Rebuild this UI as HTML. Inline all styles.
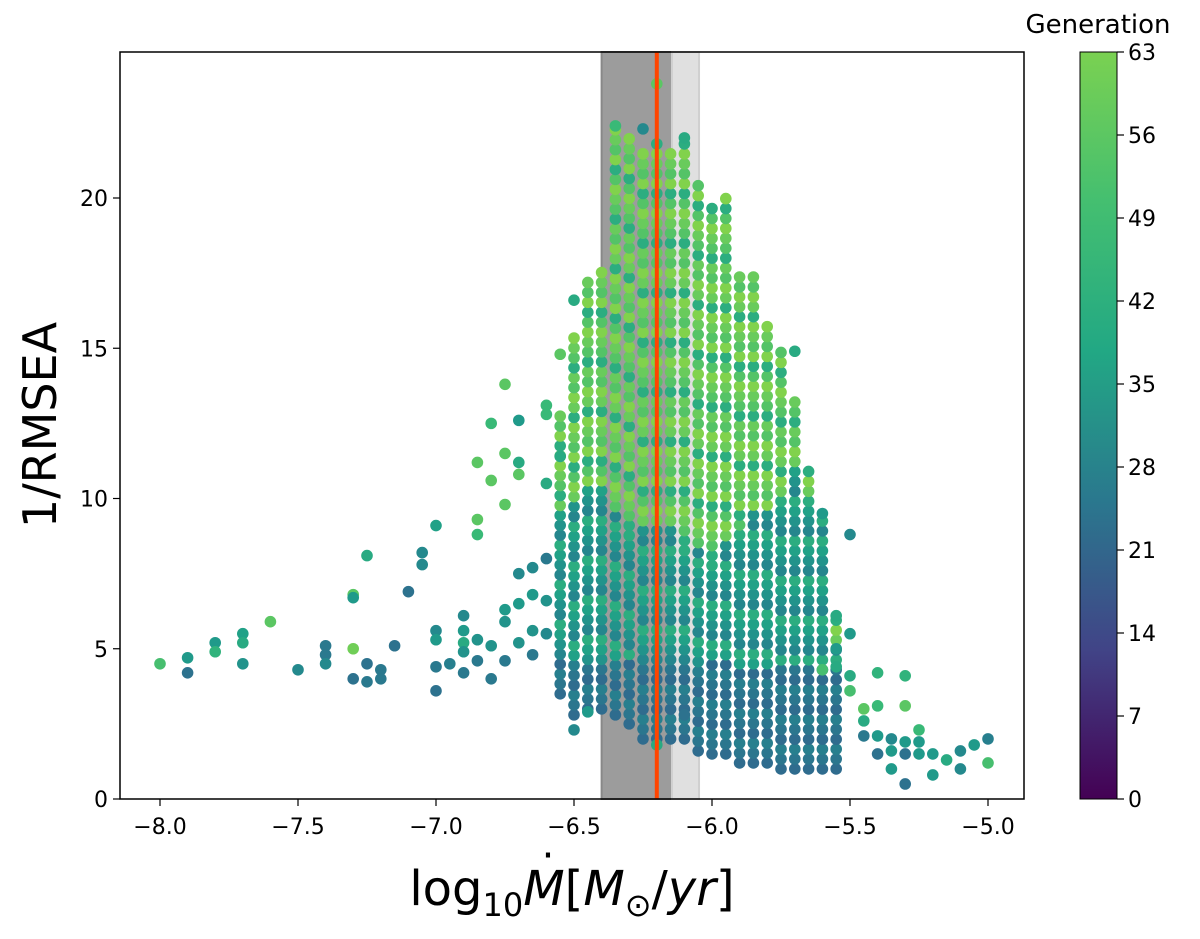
<!DOCTYPE html>
<html><head><meta charset="utf-8"><style>
body{margin:0;background:#fff;}
svg text{font-family:"DejaVu Sans","Liberation Sans",sans-serif;fill:#000;}
</style></head><body>
<svg id="chart" width="1200" height="934" xmlns="http://www.w3.org/2000/svg">
<defs>
<linearGradient id="vircb" x1="0" y1="1" x2="0" y2="0">
<stop offset="0" stop-color="#440154"/><stop offset="0.2" stop-color="#414487"/><stop offset="0.4" stop-color="#2a788e"/><stop offset="0.6" stop-color="#22a884"/><stop offset="0.8" stop-color="#44bf70"/><stop offset="1" stop-color="#7ad151"/></linearGradient>
<clipPath id="pc"><rect x="120" y="52" width="904" height="747"/></clipPath></defs>
<g id="bands"></g>
<g id="pts" clip-path="url(#pc)"></g>
<g id="over"></g>
<rect x="120" y="52" width="904" height="747" fill="none" stroke="#000" stroke-width="1.5"/>
<g id="xt"></g>
<g id="yt"></g>
<text id="xlab" x="572" y="905" font-size="48" text-anchor="middle">log<tspan font-size="32" dy="11">10</tspan><tspan dy="-11" font-style="italic">M</tspan>[<tspan font-style="italic">M</tspan><tspan font-size="32" dy="11">⊙</tspan><tspan dy="-11">/</tspan><tspan font-style="italic">yr</tspan>]</text>
<text id="mdot" x="515" y="855" font-size="40" text-anchor="middle">·</text>
<text transform="translate(56,425) rotate(-90)" font-size="46" text-anchor="middle">1/RMSEA</text>
<rect x="1080" y="52" width="37" height="747" fill="url(#vircb)" stroke="#000" stroke-width="1"/>
<g id="ct"></g>
<text x="1098" y="33" font-size="26" text-anchor="middle">Generation</text>
</svg>
<script>
const columnX=[-6.55,-6.5,-6.45,-6.4,-6.35,-6.3,-6.25,-6.2,-6.15,-6.1,-6.05,-6.0,-5.95,-5.9,-5.85,-5.8,-5.75,-5.7,-5.65,-5.6,-5.55];
const columnMin=[3.5,2.8,3.0,3.0,2.8,2.5,2.0,2.0,2.0,2.0,1.6,1.5,1.5,1.2,1.2,1.2,1.0,1.0,1.0,1.0,1.0];
const columnMax=[13.0,15.5,17.5,17.7,22.4,22.0,21.5,21.8,21.5,22.0,20.5,19.7,20.1,17.5,17.5,16.0,15.0,13.3,11.0,9.5,6.0];
const columnGreenFrom=[9.5,10,10.5,10.5,9.5,9,9,9,9,8.5,8.5,8,8.5,9,9.5,9.5,10,11,10,9,5];
const extraPts=[[-8,4.5,52],[-7.9,4.7,40],[-7.9,4.2,28],[-7.8,5.2,40],[-7.8,4.9,48],[-7.7,5.5,42],[-7.7,5.2,45],[-7.7,4.5,38],[-7.6,5.9,55],[-7.5,4.3,35],[-7.4,5.1,30],[-7.4,4.8,30],[-7.4,4.5,35],[-7.3,6.8,55],[-7.3,6.7,40],[-7.3,5,58],[-7.3,4,28],[-7.25,8.1,45],[-7.25,4.5,28],[-7.25,3.9,30],[-7.2,4.3,30],[-7.2,4.0,30],[-7.15,5.1,28],[-7.1,6.9,28],[-7.05,8.2,35],[-7.05,7.8,35],[-7.0,9.1,42],[-7.0,5.6,35],[-7.0,5.3,40],[-7.0,4.4,30],[-7.0,3.6,28],[-6.95,4.5,32],[-6.9,6.1,35],[-6.9,5.6,40],[-6.9,5.2,45],[-6.9,4.9,38],[-6.9,4.2,30],[-6.85,11.2,55],[-6.85,9.3,55],[-6.85,8.8,50],[-6.85,5.3,38],[-6.85,4.6,30],[-6.8,12.5,50],[-6.8,10.6,55],[-6.8,5.1,38],[-6.8,4.0,30],[-6.75,13.8,55],[-6.75,11.5,55],[-6.75,9.8,55],[-6.75,6.3,40],[-6.75,5.9,38],[-6.75,4.6,30],[-6.7,12.6,40],[-6.7,11.2,45],[-6.7,10.8,55],[-6.7,7.5,35],[-6.7,6.5,40],[-6.7,5.2,38],[-6.65,7.7,35],[-6.65,6.8,40],[-6.65,5.6,38],[-6.65,4.8,30],[-6.6,13.1,50],[-6.6,12.8,50],[-6.6,10.5,45],[-6.6,8.0,30],[-6.6,6.6,38],[-6.6,5.5,35],[-6.55,14.8,55],[-6.55,11.4,45],[-6.5,2.3,35],[-6.5,16.6,45],[-6.45,2.9,40],[-6.35,22.4,50],[-6.25,22.3,35],[-6.2,23.8,55],[-6.1,22.0,45],[-6.2,1.8,45],[-6.1,2.8,28],
[-5.5,4.1,45],[-5.5,3.6,52],[-5.45,3.0,55],[-5.45,2.6,45],[-5.45,2.1,30],[-5.4,4.2,48],[-5.4,3.1,50],[-5.4,2.1,40],[-5.4,1.5,28],[-5.35,2.0,35],[-5.35,1.6,40],[-5.35,1.0,40],[-5.3,4.1,48],[-5.3,3.1,55],[-5.3,1.9,40],[-5.3,1.5,28],[-5.3,0.5,28],[-5.25,2.3,50],[-5.25,1.9,40],[-5.25,1.5,40],[-5.2,1.5,40],[-5.2,0.8,40],[-5.15,1.3,45],[-5.1,1.6,35],[-5.1,1.0,35],[-5.05,1.8,40],[-5.0,2.0,32],[-5.0,1.2,52],[-5.55,5.0,40],[-5.55,4.4,45],[-5.5,8.8,35],[-5.6,4.3,52],[-5.7,14.9,45],[-5.6,9.5,40],[-5.55,6.1,45],[-5.5,5.5,40]];
const bandDark=[-6.4,-6.145];
const bandLight=[-6.145,-6.047];
const bestFit=-6.2;
const xTicks=[-8.0,-7.5,-7.0,-6.5,-6.0,-5.5,-5.0];
const xTickLabels=["−8.0","−7.5","−7.0","−6.5","−6.0","−5.5","−5.0"];
const yTicks=[0,5,10,15,20];
const cTicks=[0,7,14,21,28,35,42,49,56,63];
const X=v=>160+(v+8)*276;
const Y=v=>799-v*30.05;
const C=v=>799-v/63*747;
const vir=[[68,1,84],[72,40,120],[62,73,137],[49,104,142],[38,130,142],[31,158,137],[53,183,121],[109,205,89],[180,222,44],[253,231,37]];
function col(g){let t=g/63*0.85*9;let i=Math.min(8,Math.floor(t)),f=t-i;const a=vir[i],b=vir[i+1];return `rgb(${a.map((c,k)=>Math.round(c+(b[k]-c)*f)).join(',')})`;}
const NS="http://www.w3.org/2000/svg";
function mk(tag,attrs,parent){const e=document.createElementNS(NS,tag);for(const k in attrs)e.setAttribute(k,attrs[k]);parent.appendChild(e);return e;}
const bands=document.getElementById('bands');
let r=mk('rect',{x:X(bandDark[0]),y:52,width:X(bandDark[1])-X(bandDark[0]),height:747,fill:'#9c9c9c',stroke:'#888','stroke-width':2},bands);


r=mk('rect',{x:X(bandLight[0]),y:52,width:X(bandLight[1])-X(bandLight[0]),height:747,fill:'#e0e0e0',stroke:'#d0d0d0','stroke-width':2},bands);


const pts=document.getElementById('pts');
function dot(x,y,g){const c=mk('circle',{cx:X(x),cy:Y(y),r:5.8,fill:col(g)},pts);

}
columnX.forEach((x,i)=>{let k=0;for(let y=columnMin[i];y<=columnMax[i]+0.01;y+=0.33,k++){
 const gf=columnGreenFrom[i];let g;
 if(y<4.5)g=26+(k%3)*3; else if(y<gf)g=34+(k%4)*4; else g=(k%5===0)?46:54+(k%3)*3;
 dot(x,y,g);}});
extraPts.forEach(p=>dot(p[0],p[1],p[2]));
const ln=mk('line',{x1:X(bestFit),x2:X(bestFit),y1:52,y2:799,stroke:'#ff4500','stroke-width':4},document.getElementById('over'));


const xt=document.getElementById('xt');
xTicks.forEach((v,i)=>{mk('line',{x1:X(v),x2:X(v),y1:799,y2:806,stroke:'#000','stroke-width':1.2},xt);
const t=mk('text',{x:X(v),y:834,'font-size':22,'text-anchor':'middle'},xt);t.textContent=xTickLabels[i];

});
const yt=document.getElementById('yt');
yTicks.forEach(v=>{mk('line',{x1:113,x2:120,y1:Y(v),y2:Y(v),stroke:'#000','stroke-width':1.2},yt);
const t=mk('text',{x:108,y:Y(v)+8,'font-size':22,'text-anchor':'end'},yt);t.textContent=v;

});
const ct=document.getElementById('ct');
cTicks.forEach(v=>{mk('line',{x1:1117,x2:1124,y1:C(v),y2:C(v),stroke:'#000','stroke-width':1.2},ct);
const t=mk('text',{x:1128,y:C(v)+8,'font-size':22},ct);t.textContent=v;

});
try{const xl=document.getElementById('xlab');const ext=xl.getExtentOfChar(5);
const md=document.getElementById('mdot');md.setAttribute('x',ext.x+ext.width/2+4);md.setAttribute('y',ext.y+8);}catch(e){}
</script>
</body></html>
